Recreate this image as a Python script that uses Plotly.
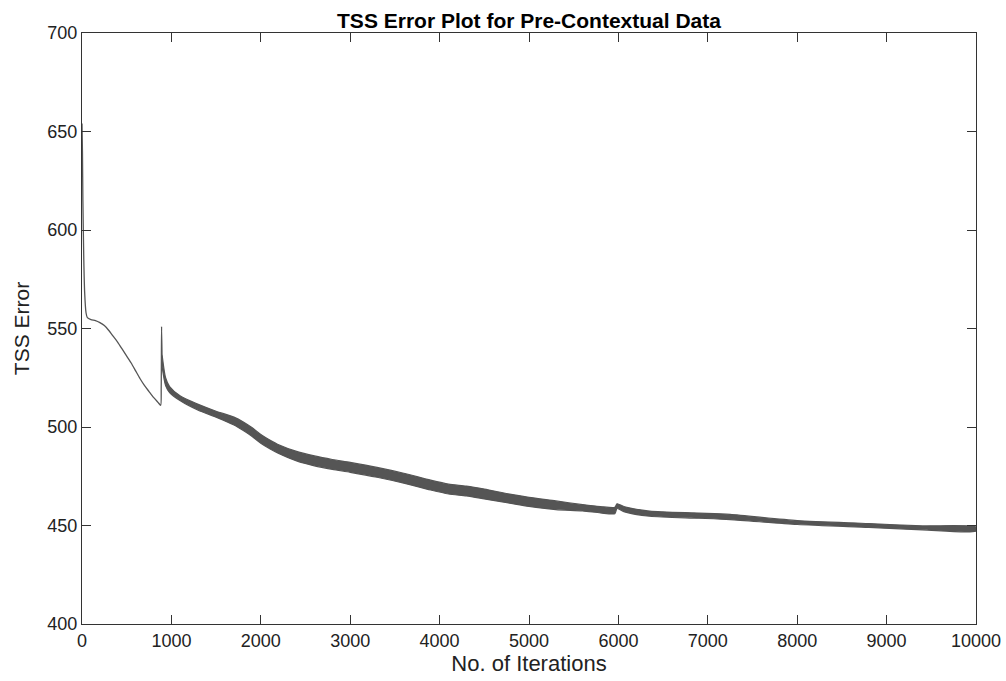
import plotly.graph_objects as go

# Early single-line portion (iterations, TSS error)
thin_iter = [0, 5, 10, 20, 30, 45, 60, 100, 150, 200, 250, 300, 350, 400, 450, 500, 550,
             600, 650, 700, 750, 800, 850, 880, 886, 890, 895]
thin_tss = [654, 640, 615, 585, 568, 558, 555.5, 554.5, 554, 553, 551.5, 549, 546, 543, 539.5, 536, 532.5,
            528.5, 524.5, 521, 518, 515, 512.5, 511, 520, 551, 537]

# Oscillating band after the spike: upper and lower envelopes
band_iter = [895, 935, 980, 1100, 1300, 1500, 1700, 1800, 1900, 2000, 2100, 2200, 2400, 2600,
             2800, 3000, 3300, 3600, 3900, 4100, 4300, 4500, 4800, 5000, 5300, 5600, 5800,
             5960, 5985, 6070, 6350, 6900, 7250, 8000, 8800, 9400, 10000]
band_upper = [537, 525, 520.5, 515.7, 511.5, 508, 505, 502.7, 499.7, 496.2, 493.4, 491.0, 487.6, 485.3,
              483.5, 482, 479.5, 476.5, 473, 471, 470, 468.5, 465.8, 464.3, 462.5, 460.6, 459.6,
              459.2, 461, 459.5, 457.3, 456.3, 455.6, 452.5, 451, 449.8, 449.2]
band_lower = [531, 521, 517.5, 513.3, 508.5, 505, 501, 498.3, 495.3, 491.8, 489.0, 486.6, 482.8, 480.3,
              478.5, 477, 474.5, 471.5, 468, 466, 465, 463.5, 461.2, 459.7, 458.1, 457.4, 456.4,
              456, 458.6, 456.9, 454.7, 453.7, 453, 450.5, 449, 447.8, 447.2]

x_ticks = list(range(0, 10001, 1000))
y_ticks = list(range(400, 701, 50))

line_color = "#555555"
axis_color = "#333333"

fig = go.Figure()
fig.add_trace(go.Scatter(x=thin_iter, y=thin_tss, mode="lines", line_shape="spline",
                         line=dict(color=line_color, width=1.3, smoothing=0.6), hoverinfo="skip"))
fig.add_trace(go.Scatter(x=band_iter + band_iter[::-1], y=band_upper + band_lower[::-1],
                         mode="lines", fill="toself", fillcolor=line_color, line_shape="spline",
                         line=dict(color=line_color, width=1.2, smoothing=0.7), hoverinfo="skip"))

fig.update_layout(
    width=1006, height=681,
    margin=dict(l=82, r=30, t=33, b=57, autoexpand=False),
    plot_bgcolor="white", paper_bgcolor="white",
    showlegend=False,
    font=dict(family="Liberation Sans, Arial, sans-serif", color="#222222"),
    title=dict(text="<b>TSS Error Plot for Pre-Contextual Data</b>",
               x=0.5, xref="paper", xanchor="center",
               y=1, yref="paper", yanchor="bottom", pad=dict(b=5),
               font=dict(size=21, color="#000000")),
)
fig.update_xaxes(range=[0, 10000], tickvals=x_ticks, ticktext=[str(v) for v in x_ticks],
                 ticks="inside", ticklen=9, tickcolor=axis_color, tickwidth=1,
                 showline=True, linecolor=axis_color, linewidth=1, mirror="ticks",
                 showgrid=False, zeroline=False, automargin=False,
                 tickfont=dict(size=18, color="#222222"),
                 title=dict(text="No. of Iterations", font=dict(size=22, color="#222222"), standoff=6))
fig.update_yaxes(range=[400, 700], tickvals=y_ticks, ticktext=[str(v) for v in y_ticks],
                 ticks="inside", ticklen=9, tickcolor=axis_color, tickwidth=1,
                 showline=True, linecolor=axis_color, linewidth=1, mirror="ticks",
                 showgrid=False, zeroline=False, automargin=False,
                 tickfont=dict(size=18, color="#222222"),
                 title=dict(text="TSS Error", font=dict(size=21, color="#222222"), standoff=12))

fig.write_html("out.html")
